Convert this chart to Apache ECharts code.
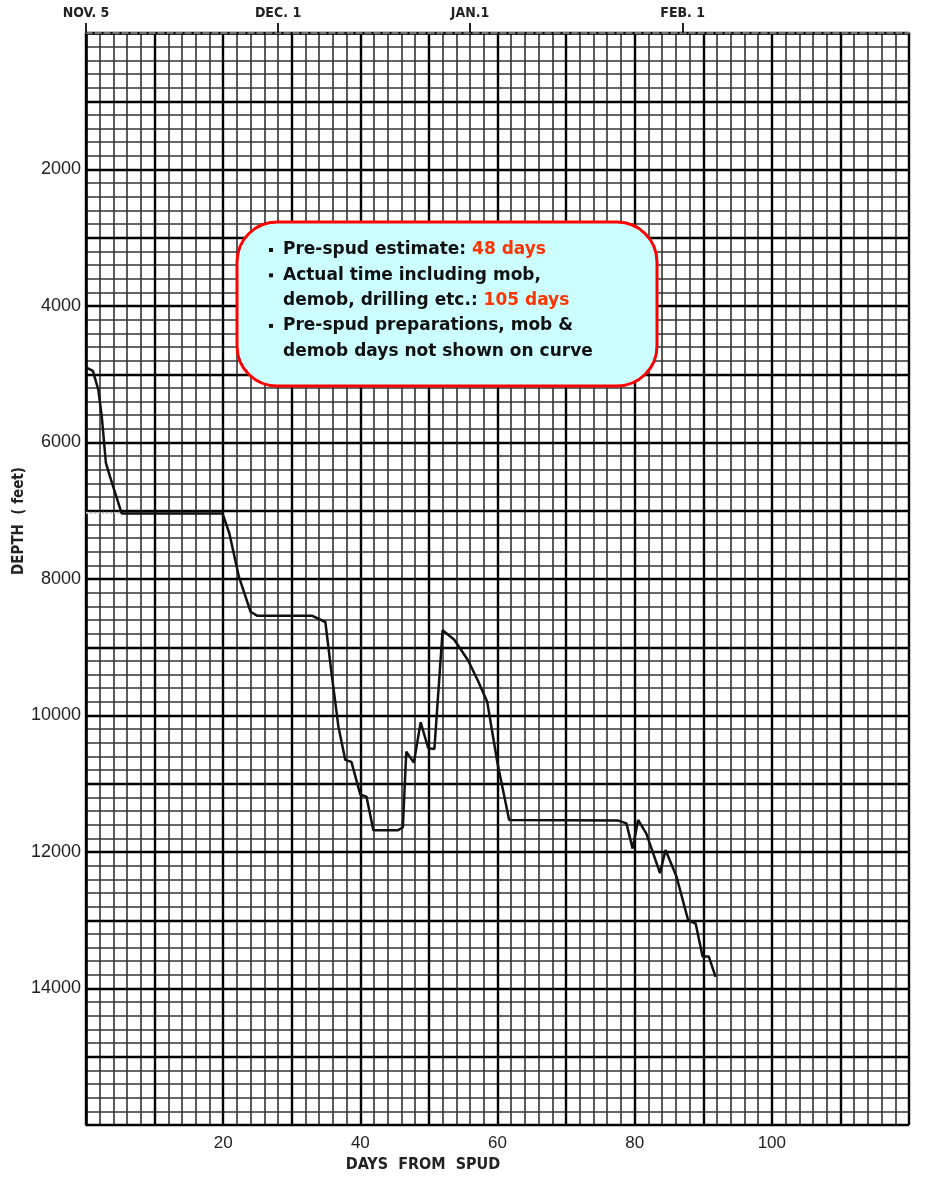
<!DOCTYPE html>
<html>
<head>
<meta charset="utf-8">
<script src="https://cdn.jsdelivr.net/npm/echarts@6/dist/echarts.min.js"></script>
<style>
  html, body { margin: 0; padding: 0; background: #fff; }
  #chart-panel { width: 932px; height: 1177px; }
</style>
</head>
<body>
<div id="chart-panel"></div>
<script>
// 钻井曲线：天数 / 深度(ft)
var spudDays = [0, 1.0, 1.8, 2.3, 2.9, 3.5, 5.2, 19.9, 20.9, 22.3, 24.0, 25.0, 33.0, 34.9, 35.8, 36.8,
  37.8, 38.7, 40.0, 40.9, 41.9, 45.5, 46.2, 46.7, 47.8, 48.8, 49.9, 50.8, 52.0, 53.7, 55.7, 57.1,
  58.5, 59.5, 60.0, 61.7, 77.6, 78.8, 79.7, 80.5, 81.7, 83.7, 84.5, 86.1, 87.8, 88.9, 89.9, 90.8, 91.8];
var depthFt = [4900, 4950, 5230, 5620, 6300, 6500, 7040, 7040, 7330, 7970, 8480, 8540, 8540, 8630, 9380, 10160,
  10650, 10680, 11160, 11190, 11680, 11680, 11640, 10530, 10690, 10100, 10480, 10490, 8750, 8890, 9190, 9480,
  9800, 10400, 10700, 11530, 11540, 11580, 11950, 11530, 11730, 12310, 11970, 12360, 13000, 13050, 13530, 13530, 13830];

// 虚线（套管深度）
var guideDays = [0, 5];
var guideDepth = [7030, 7030];

// 顶部日期刻度
var dateTicks = [0, 28, 56, 87];
var dateLabels = ['NOV. 5', 'DEC. 1', 'JAN.1', 'FEB. 1'];

// 说明文字
var noteLines = [
  {bullet: true, text: 'Pre-spud estimate: {r|48 days}'},
  {bullet: true, text: 'Actual time including mob,'},
  {bullet: false, text: 'demob, drilling etc.: {r|105 days}'},
  {bullet: true, text: 'Pre-spud preparations, mob &'},
  {bullet: false, text: 'demob days not shown on curve'}
];

let chartPanel = document.getElementById('chart-panel');
let myChart = echarts.init(chartPanel);

let labelFont = 'Liberation Sans';
let noteFont = 'bold 17px "DejaVu Sans", sans-serif';

// 坐标纸：细线每2天/200ft，粗线每10天/1000ft
let minorLine = {show: true, lineStyle: {color: '#333', width: 1.6}};
let majorLine = {show: true, lineStyle: {color: '#000', width: 2.4}};
let gridBox = {left: 86, top: 33, right: 23, bottom: 52};

let graphics = [{
  type: 'rect',
  shape: {x: 237, y: 222, width: 420, height: 164, r: 40},
  style: {fill: '#ccffff', stroke: '#ff0000', lineWidth: 3},
  z: 100
}];
noteLines.forEach(function (line, i) {
  let cy = 250 + i * 25.3;
  if (line.bullet) {
    graphics.push({
      type: 'rect',
      shape: {x: 269, y: cy - 2, width: 4, height: 4},
      style: {fill: '#111'},
      z: 101
    });
  }
  graphics.push({
    type: 'text',
    x: 283,
    y: cy,
    style: {
      text: line.text,
      fill: '#111',
      font: noteFont,
      verticalAlign: 'middle',
      rich: {
        r: {fill: '#ff3300', font: noteFont}
      }
    },
    z: 101
  });
});
// 坐标轴名称
graphics.push({
  type: 'text',
  x: 423,
  y: 1165,
  style: {
    text: 'DAYS  FROM  SPUD',
    fill: '#222',
    font: 'bold 16px "DejaVu Sans Condensed", sans-serif',
    align: 'center',
    verticalAlign: 'middle'
  }
});
graphics.push({
  type: 'text',
  x: 19,
  y: 521,
  rotation: Math.PI / 2,
  style: {
    text: 'DEPTH  ( feet)',
    fill: '#222',
    font: 'bold 15px "DejaVu Sans Condensed", sans-serif',
    align: 'center',
    verticalAlign: 'middle'
  }
});

myChart.setOption({
  backgroundColor: '#fff',
  animation: false,
  grid: [gridBox, gridBox],
  graphic: graphics,
  xAxis: [{
    type: 'value',
    gridIndex: 0,
    position: 'bottom',
    min: 0,
    max: 120,
    interval: 10,
    z: 2,
    axisLine: {show: true, lineStyle: {color: '#000', width: 2.6}},
    axisTick: {show: false},
    axisLabel: {
      margin: 10,
      color: '#222',
      fontSize: 17,
      fontFamily: labelFont,
      formatter: function (v) {
        return (v % 20 === 0 && v > 0 && v < 120) ? String(v) : '';
      }
    },
    splitLine: majorLine
  }, {
    type: 'value',
    gridIndex: 0,
    position: 'top',
    min: 0,
    max: 120,
    z: 2,
    axisLine: {show: true, lineStyle: {color: '#999', width: 1.5, type: 'dashed'}},
    axisTick: {
      show: true,
      customValues: dateTicks,
      length: 10,
      lineStyle: {color: '#222', width: 2}
    },
    axisLabel: {
      customValues: dateTicks,
      margin: 13,
      color: '#222',
      fontSize: 14,
      fontWeight: 'bold',
      fontFamily: 'DejaVu Sans Condensed',
      formatter: function (v) {
        let i = dateTicks.indexOf(v);
        return i >= 0 ? dateLabels[i] : '';
      }
    },
    splitLine: {show: false}
  }, {
    // 细网格
    type: 'value',
    gridIndex: 1,
    min: 0,
    max: 120,
    interval: 2,
    z: 0,
    axisLine: {show: false},
    axisTick: {show: false},
    axisLabel: {show: false},
    splitLine: minorLine
  }],
  yAxis: [{
    type: 'value',
    gridIndex: 0,
    inverse: true,
    min: 0,
    max: 16000,
    interval: 1000,
    z: 2,
    axisLine: {show: true, lineStyle: {color: '#000', width: 2.6}},
    axisTick: {show: false},
    axisLabel: {
      margin: 5,
      color: '#222',
      fontSize: 18,
      fontFamily: labelFont,
      formatter: function (v) {
        return (v % 2000 === 0 && v > 0 && v < 16000) ? String(v) : '';
      }
    },
    splitLine: majorLine
  }, {
    type: 'value',
    gridIndex: 1,
    inverse: true,
    min: 0,
    max: 16000,
    interval: 200,
    z: 0,
    axisLine: {show: false},
    axisTick: {show: false},
    axisLabel: {show: false},
    splitLine: minorLine
  }],
  series: [{
    name: 'guide',
    type: 'line',
    xAxisIndex: 0,
    yAxisIndex: 0,
    data: guideDays.map((d, i) => [d, guideDepth[i]]),
    symbol: 'none',
    lineStyle: {color: '#bbb', width: 2, type: 'dotted'},
    z: 3
  }, {
    name: 'depth',
    type: 'line',
    xAxisIndex: 0,
    yAxisIndex: 0,
    data: spudDays.map((d, i) => [d, depthFt[i]]),
    symbol: 'none',
    lineStyle: {color: '#111', width: 2.5},
    z: 4
  }]
});
</script>
</body>
</html>
